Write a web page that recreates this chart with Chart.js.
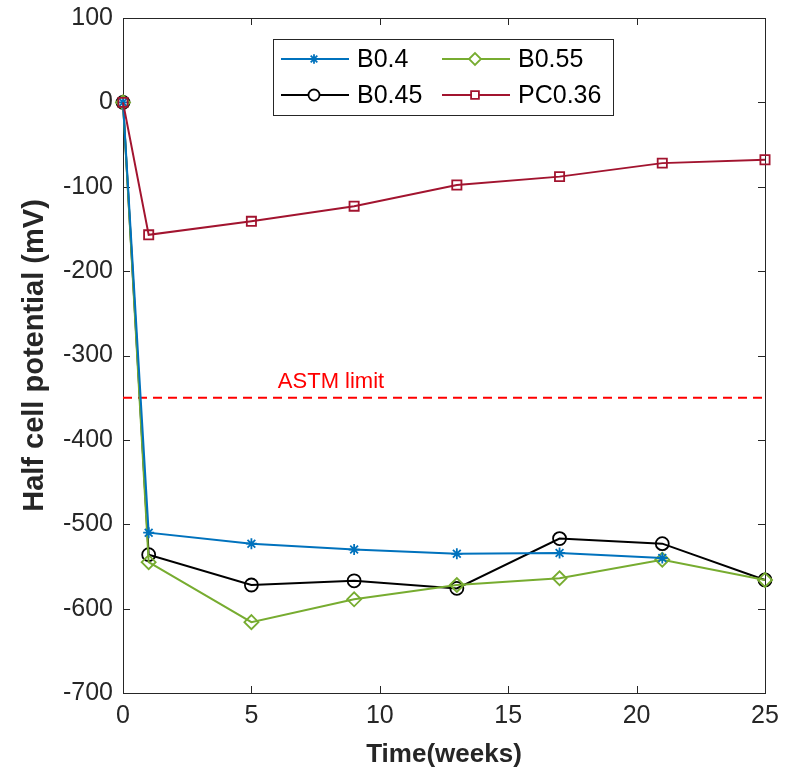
<!DOCTYPE html>
<html>
<head>
<meta charset="utf-8">
<script src="https://cdn.jsdelivr.net/npm/chart.js@4/dist/chart.umd.min.js"></script>
<style>
  html, body { margin: 0; padding: 0; background: #fff; }
  #wrap { width: 787px; height: 772px; }
</style>
</head>
<body>
<div id="wrap"><canvas id="chart" width="787" height="772"></canvas></div>
<script>
// weeks of measurement
const weeks = [0, 1, 5, 9, 13, 17, 21, 25];

// half cell potential (mV)
const b04 = [0, -510, -523, -530, -535, -534, -540];
const b045 = [0, -536, -572, -567, -576, -517, -523, -566];
const b055 = [0, -545, -616, -589, -572, -564, -542, -566];
const pc036 = [0, -157, -141, -123, -98, -88, -72, -68];

const astmX = [0, 25];
const astmY = [-350, -350];
const astmLabel = 'ASTM limit';

const xTicks = [0, 5, 10, 15, 20, 25];
const yTicks = [100, 0, -100, -200, -300, -400, -500, -600, -700];

const axisColor = '#262626';
const font = '"Liberation Sans", Arial, sans-serif';

function pts(xs, ys) {
  return ys.map((y, i) => ({ x: xs[i], y: y }));
}

// order: lower number is drawn on top
const series = [
  { label: 'B0.4', data: b04, color: '#0072BD', style: 'star', radius: 5.5, order: 1 },
  { label: 'B0.45', data: b045, color: '#000000', style: 'circle', radius: 6.5, order: 3 },
  { label: 'B0.55', data: b055, color: '#77AC30', style: 'rectRot', radius: 7, order: 2 },
  { label: 'PC0.36', data: pc036, color: '#A2142F', style: 'rect', radius: 6.5, order: 0 },
];

const datasets = series.map(s => ({
  label: s.label,
  data: pts(weeks, s.data),
  order: s.order,
  borderColor: s.color,
  borderWidth: 2,
  pointStyle: s.style,
  pointRadius: s.radius,
  pointBorderColor: s.color,
  pointBackgroundColor: 'rgba(0,0,0,0)',
  pointBorderWidth: 1.8,
  tension: 0,
  clip: false,
}));

datasets.push({
  label: astmLabel,
  data: pts(astmX, astmY),
  order: 4,
  borderColor: '#FF0000',
  borderWidth: 2,
  borderDash: [9, 6],
  pointRadius: 0,
  clip: false,
});

// box frame with inward ticks, ASTM note and legend
const framePlugin = {
  id: 'frame',
  beforeDatasetsDraw(chart) {
    const { ctx, chartArea: a, scales } = chart;
    ctx.save();
    ctx.strokeStyle = axisColor;
    ctx.lineWidth = 1;
    ctx.strokeRect(a.left + 0.5, a.top + 0.5, a.right - a.left, a.bottom - a.top);
    const t = 7;
    ctx.beginPath();
    xTicks.forEach(v => {
      const x = Math.round(scales.x.getPixelForValue(v)) + 0.5;
      ctx.moveTo(x, a.bottom); ctx.lineTo(x, a.bottom - t);
      ctx.moveTo(x, a.top); ctx.lineTo(x, a.top + t);
    });
    yTicks.forEach(v => {
      const y = Math.round(scales.y.getPixelForValue(v)) + 0.5;
      ctx.moveTo(a.left, y); ctx.lineTo(a.left + t, y);
      ctx.moveTo(a.right, y); ctx.lineTo(a.right - t, y);
    });
    ctx.stroke();
    ctx.restore();
  },
  afterDatasetsDraw(chart) {
    const { ctx, scales } = chart;
    ctx.save();
    ctx.fillStyle = '#FF0000';
    ctx.font = '22px ' + font;
    ctx.textAlign = 'center';
    ctx.textBaseline = 'middle';
    ctx.fillText(astmLabel, scales.x.getPixelForValue(8.1), scales.y.getPixelForValue(-331));

    const lx = 273, ly = 39, lw = 340, lh = 76;
    ctx.fillStyle = '#fff';
    ctx.fillRect(lx, ly, lw, lh);
    ctx.strokeStyle = axisColor;
    ctx.lineWidth = 1;
    ctx.strokeRect(lx + 0.5, ly + 0.5, lw, lh);
    const cols = [lx + 8, lx + 169];
    const rows = [ly + 20, ly + 56];
    series.forEach((s, i) => {
      const cx = cols[Math.floor(i / 2)];
      const cy = rows[i % 2];
      ctx.strokeStyle = s.color;
      ctx.lineWidth = 2;
      ctx.beginPath();
      ctx.moveTo(cx, cy); ctx.lineTo(cx + 68, cy);
      ctx.stroke();
      ctx.fillStyle = '#fff';
      ctx.lineWidth = 1.8;
      Chart.helpers.drawPoint(ctx, { pointStyle: s.style, radius: s.radius * 0.85, rotation: 0, borderWidth: 1.8 }, cx + 33, cy);
      ctx.fillStyle = '#000';
      ctx.font = '25px ' + font;
      ctx.textAlign = 'left';
      ctx.textBaseline = 'middle';
      ctx.fillText(s.label, cx + 76, cy + 1);
    });
    ctx.restore();
  }
};

new Chart(document.getElementById('chart'), {
  type: 'line',
  data: { datasets: datasets },
  options: {
    responsive: false,
    animation: false,
    devicePixelRatio: 1,
    layout: { padding: { left: 0, right: 22, top: 18, bottom: 0 } },
    plugins: { legend: { display: false }, tooltip: { enabled: false } },
    scales: {
      x: {
        type: 'linear',
        min: 0, max: 25,
        afterBuildTicks: s => { s.ticks = xTicks.map(v => ({ value: v })); },
        afterFit: s => { s.height = 79; s.paddingLeft = 0; s.paddingRight = 0; },
        grid: { display: false, drawTicks: false },
        border: { display: false },
        ticks: { color: axisColor, font: { family: font, size: 25 }, padding: 8 },
        title: {
          display: true, text: 'Time(weeks)', color: axisColor,
          font: { family: font, size: 26, weight: 'bold' }, padding: { top: 0, bottom: 2 }
        }
      },
      y: {
        type: 'linear',
        min: -700, max: 100,
        afterBuildTicks: s => { s.ticks = yTicks.map(v => ({ value: v })); },
        afterFit: s => { s.width = 123; s.paddingTop = 0; s.paddingBottom = 0; },
        grid: { display: false, drawTicks: false },
        border: { display: false },
        ticks: { color: axisColor, font: { family: font, size: 25 }, padding: 10 },
        title: {
          display: true, text: 'Half cell potential (mV)', color: axisColor,
          font: { family: font, size: 29, weight: 'bold' }, padding: { top: 18, bottom: 0 }
        }
      }
    }
  },
  plugins: [framePlugin]
});
</script>
</body>
</html>
